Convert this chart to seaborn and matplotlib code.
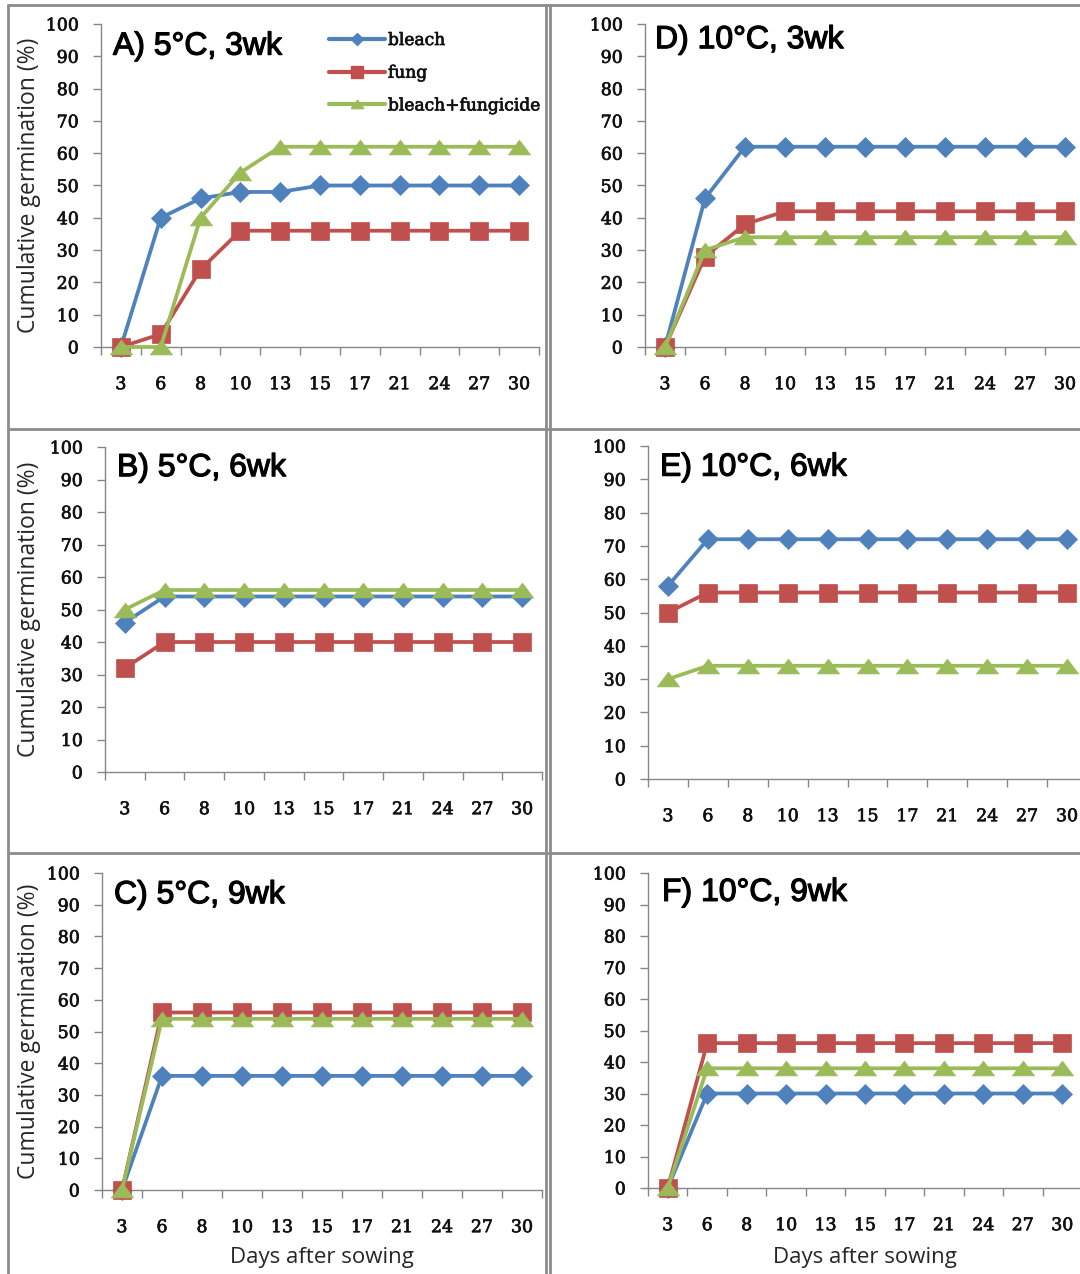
import numpy as np
import pandas as pd
import matplotlib
matplotlib.use("Agg")
import matplotlib.pyplot as plt
import matplotlib.patheffects as pe
from matplotlib.lines import Line2D
import seaborn as sns

# ---------------- data ----------------
days = ["3", "6", "8", "10", "13", "15", "17", "21", "24", "27", "30"]
series_names = ["bleach", "fung", "bleach+fungicide"]
panel_titles = ["A) 5°C, 3wk", "B) 5°C, 6wk", "C) 5°C, 9wk",
                "D) 10°C, 3wk", "E) 10°C, 6wk", "F) 10°C, 9wk"]

A_bleach = [0, 40, 46, 48, 48, 50, 50, 50, 50, 50, 50]
A_fung = [0, 4, 24, 36, 36, 36, 36, 36, 36, 36, 36]
A_bf = [0, 0, 40, 54, 62, 62, 62, 62, 62, 62, 62]

B_bleach = [46, 54, 54, 54, 54, 54, 54, 54, 54, 54, 54]
B_fung = [32, 40, 40, 40, 40, 40, 40, 40, 40, 40, 40]
B_bf = [50, 56, 56, 56, 56, 56, 56, 56, 56, 56, 56]

C_bleach = [0, 36, 36, 36, 36, 36, 36, 36, 36, 36, 36]
C_fung = [0, 56, 56, 56, 56, 56, 56, 56, 56, 56, 56]
C_bf = [0, 54, 54, 54, 54, 54, 54, 54, 54, 54, 54]

D_bleach = [0, 46, 62, 62, 62, 62, 62, 62, 62, 62, 62]
D_fung = [0, 28, 38, 42, 42, 42, 42, 42, 42, 42, 42]
D_bf = [0, 30, 34, 34, 34, 34, 34, 34, 34, 34, 34]

E_bleach = [58, 72, 72, 72, 72, 72, 72, 72, 72, 72, 72]
E_fung = [50, 56, 56, 56, 56, 56, 56, 56, 56, 56, 56]
E_bf = [30, 34, 34, 34, 34, 34, 34, 34, 34, 34, 34]

F_bleach = [0, 30, 30, 30, 30, 30, 30, 30, 30, 30, 30]
F_fung = [0, 46, 46, 46, 46, 46, 46, 46, 46, 46, 46]
F_bf = [0, 38, 38, 38, 38, 38, 38, 38, 38, 38, 38]

panel_data = [
    (A_bleach, A_fung, A_bf), (B_bleach, B_fung, B_bf), (C_bleach, C_fung, C_bf),
    (D_bleach, D_fung, D_bf), (E_bleach, E_fung, E_bf), (F_bleach, F_fung, F_bf),
]

# ---------------- style ----------------
sns.set_theme(style="white")
plt.rcParams["font.family"] = ["DejaVu Serif"]

W, H = 1080, 1274
fig = plt.figure(figsize=(W / 100, H / 100), dpi=100)
fig.patch.set_facecolor("white")

colors = ["#4F81BD", "#C0504D", "#9BBB59"]
tri = np.array([[-1.5, -1.0], [1.5, -1.0], [0.0, 1.0], [-1.5, -1.0]])
markers = ["D", "s", tri]
msizes = [10, 13.5, 16]
spine_c = "#868686"
tick_c = "#111111"
thick = [pe.withStroke(linewidth=0.5, foreground=tick_c)]
title_fx = [pe.withStroke(linewidth=0.9, foreground="black")]

# axes boxes in pixels: left, right, top(100), bottom(0)
boxes = [
    (101, 539, 24, 347), (105, 542, 447, 772), (102, 542, 873, 1190),
    (645, 1085, 24, 347), (648, 1087, 446, 779), (648, 1082, 873, 1188),
]
title_pos = [(12, 0.93), (12, 0.935), (12, 0.93), (10, 0.95), (12, 0.935), (14, 0.937)]

positions = np.arange(len(days))

for i, (l, r, t, b) in enumerate(boxes):
    ax = fig.add_axes([l / W, 1 - b / H, (r - l) / W, (b - t) / H])
    for k, name in enumerate(series_names):
        df = pd.DataFrame({"pos": positions, "val": panel_data[i][k]})
        sns.lineplot(data=df, x="pos", y="val", ax=ax, color=colors[k],
                     marker=markers[k], markersize=msizes[k], linewidth=2.7,
                     markeredgecolor=colors[k], markeredgewidth=0.5,
                     errorbar=None, clip_on=False, zorder=3 + k)
    ax.set_xlim(-0.5, len(days) - 0.5)
    ax.set_ylim(0, 100)
    ax.set_yticks(np.arange(0, 101, 10))
    ax.set_xticks(np.arange(-0.5, len(days), 1.0))
    ax.set_xticklabels([])
    ax.set_xticks(positions, minor=True)
    ax.set_xticklabels(days, minor=True)
    ax.tick_params(axis="x", which="major", direction="out", length=6,
                   width=1, color=spine_c, bottom=True)
    ax.tick_params(axis="x", which="minor", length=0, pad=21, labelsize=12.5,
                   labelcolor=tick_c, bottom=True)
    ax.tick_params(axis="y", direction="out", length=6, width=1, color=spine_c,
                   pad=10, labelsize=12.5, labelcolor=tick_c, left=True)
    for lab in ax.get_xticklabels(minor=True) + ax.get_yticklabels():
        lab.set_path_effects(thick)
    for s in ["top", "right"]:
        ax.spines[s].set_visible(False)
    for s in ["left", "bottom"]:
        ax.spines[s].set_color(spine_c)
        ax.spines[s].set_linewidth(1)
    ax.set_xlabel("")
    ax.set_ylabel("")
    ax.set_facecolor("none")
    tx, ty = title_pos[i]
    ax.text(tx / (r - l), ty, panel_titles[i], transform=ax.transAxes,
            ha="left", va="center", fontsize=23, family="Liberation Sans",
            color="black", path_effects=title_fx)

    # y label on left column, x label on bottom row
    if i < 3:
        fig.text(29 / W, 1 - ((t + b) / 2) / H, "Cumulative germination (%)",
                 rotation=90, ha="center", va="center", fontsize=16.5,
                 family="Open Sans", color="#262626")
    if i in (2, 5):
        fig.text(((l + r) / 2) / W, 1 - 1257 / H, "Days after sowing",
                 ha="center", va="center", fontsize=16, family="Open Sans",
                 color="#262626")

# legend in panel A
handles = [Line2D([0], [0], color=colors[k], marker=markers[k], lw=3,
                  markersize=[6, 8, 9][k], markeredgecolor=colors[k])
           for k in range(3)]
leg = fig.legend(handles, series_names, loc="upper left",
                 bbox_to_anchor=(329 / W, 1 - 32 / H), frameon=False,
                 fontsize=12.3, handlelength=3.3, handletextpad=0.15,
                 labelspacing=0.92, borderpad=0, borderaxespad=0)
for txt in leg.get_texts():
    txt.set_path_effects(thick)
    txt.set_color(tick_c)

# panel frames
frame_c = "#8c8c8c"
for x in (8, 546, 550):
    fig.add_artist(Line2D([x / W, x / W], [0, 1 - 5 / H], color=frame_c, lw=2,
                          transform=fig.transFigure))
for y in (5, 429, 853):
    fig.add_artist(Line2D([8 / W, 1], [1 - y / H, 1 - y / H], color=frame_c, lw=2,
                          transform=fig.transFigure))

fig.savefig("out.png", dpi=100, facecolor="white")
